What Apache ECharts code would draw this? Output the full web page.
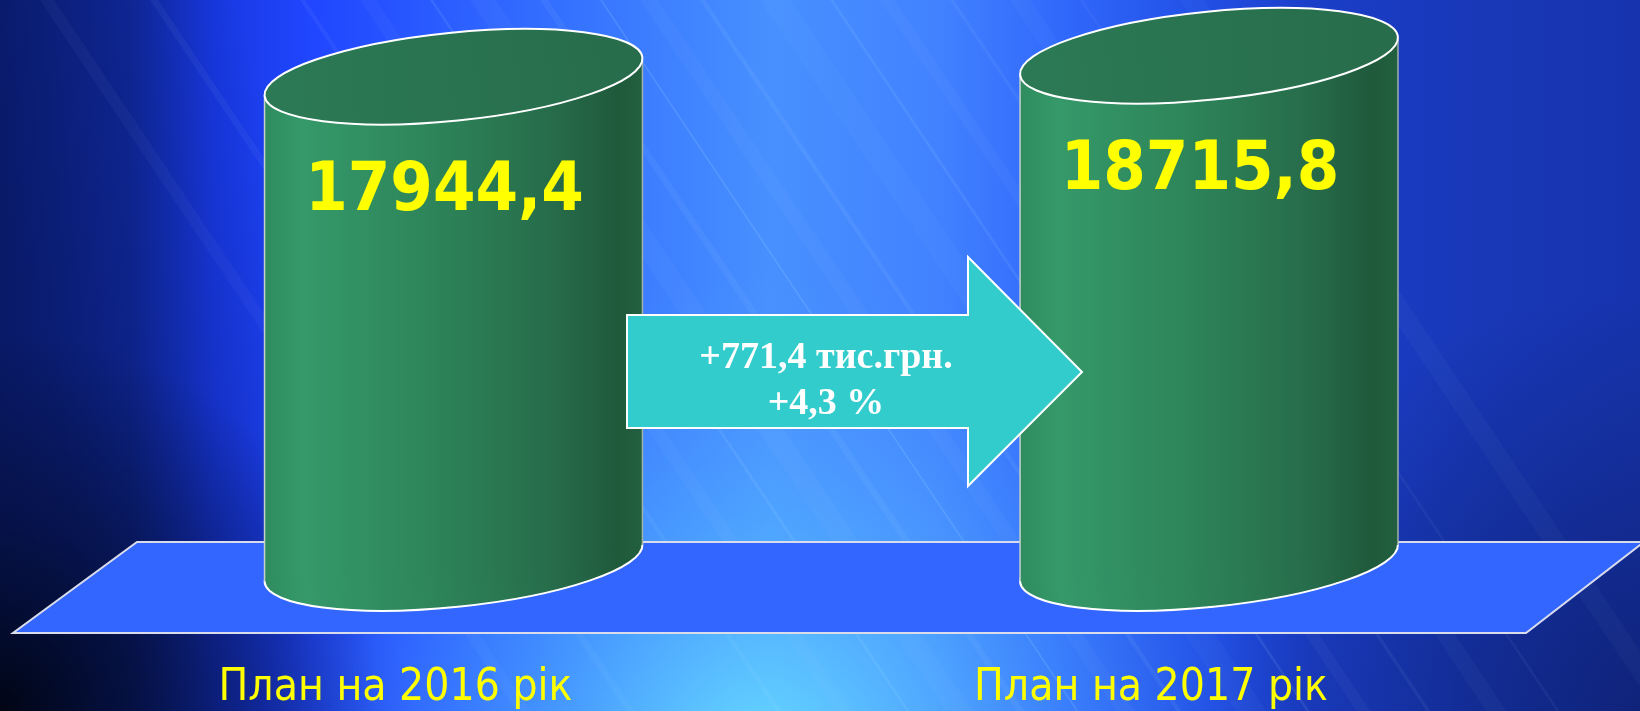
<!DOCTYPE html>
<html>
<head>
<meta charset="utf-8">
<script src="https://cdn.jsdelivr.net/npm/echarts@6/dist/echarts.min.js"></script>
<style>
  html, body { margin: 0; padding: 0; }
  #main { width: 1640px; height: 711px; }
</style>
</head>
<body>
<div id="main"></div>
<script>
var categories = ['План на 2016 рік', 'План на 2017 рік'];
var values = [17944.4, 18715.8];
var unit = 'тис.грн.';

var W = 1640, H = 711;
var diff = values[1] - values[0];
var pct = diff / values[0] * 100;
function fmt(v, d) { return v.toFixed(d).replace('.', ','); }

// background streaks: [x at top, width, opacity]
var streaks = [
  [40, 14, 0.04], [150, 8, 0.05], [300, 5, 0.06], [360, 16, 0.04],
  [430, 3, 0.10], [470, 26, 0.04], [540, 8, 0.06], [600, 2, 0.14],
  [640, 18, 0.04], [700, 5, 0.07], [760, 30, 0.03], [830, 3, 0.09],
  [880, 14, 0.04], [950, 4, 0.06], [1010, 20, 0.03], [1080, 3, 0.05],
  [1180, 24, 0.03]
];
var slope = 0.67;

var myChart = echarts.init(document.getElementById('main'));

var bg = [];
bg.push({
  type: 'rect', silent: true, z: -10,
  shape: { x: 0, y: 0, width: W, height: H },
  style: {
    fill: new echarts.graphic.LinearGradient(0, 0, 1, 0, [
      { offset: 0, color: '#0c2080' },
      { offset: 0.08, color: '#1029a0' },
      { offset: 0.13, color: '#1838e0' },
      { offset: 0.19, color: '#2046ff' },
      { offset: 0.34, color: '#3470ff' },
      { offset: 0.47, color: '#4890ff' },
      { offset: 0.57, color: '#4282ff' },
      { offset: 0.65, color: '#3068fb' },
      { offset: 0.73, color: '#2250e6' },
      { offset: 0.8, color: '#1b3ec8' },
      { offset: 0.9, color: '#1838b8' },
      { offset: 1, color: '#1734ae' }
    ])
  }
});
// cyan glow at the bottom centre
bg.push({
  type: 'rect', silent: true, z: -9,
  shape: { x: 0, y: 0, width: W, height: H },
  style: {
    fill: new echarts.graphic.RadialGradient(760, 770, 500, [
      { offset: 0, color: 'rgba(110,235,255,0.85)' },
      { offset: 0.5, color: 'rgba(90,200,255,0.35)' },
      { offset: 1, color: 'rgba(80,160,255,0)' }
    ], true)
  }
});
// darker left edge
bg.push({
  type: 'rect', silent: true, z: -8,
  shape: { x: 0, y: 0, width: W, height: H },
  style: {
    fill: new echarts.graphic.LinearGradient(-40, 40, 230, -30, [
      { offset: 0, color: 'rgba(4,14,60,0.35)' },
      { offset: 1, color: 'rgba(4,14,60,0)' }
    ], true)
  }
});
bg.push({
  type: 'rect', silent: true, z: -8,
  shape: { x: 0, y: 0, width: W, height: H },
  style: {
    fill: new echarts.graphic.RadialGradient(0, H, 380, [
      { offset: 0, color: 'rgba(0,4,16,0.95)' },
      { offset: 0.5, color: 'rgba(2,10,40,0.5)' },
      { offset: 1, color: 'rgba(2,10,40,0)' }
    ], true)
  }
});
// dark lower right
bg.push({
  type: 'rect', silent: true, z: -8,
  shape: { x: 0, y: 0, width: W, height: H },
  style: {
    fill: new echarts.graphic.RadialGradient(W, H, 420, [
      { offset: 0, color: 'rgba(12,28,100,0.7)' },
      { offset: 1, color: 'rgba(12,28,100,0)' }
    ], true)
  }
});
streaks.forEach(function (s) {
  var dx = H * slope;
  bg.push({
    type: 'polygon', silent: true, z: -7,
    shape: { points: [[s[0], 0], [s[0] + s[1], 0], [s[0] + s[1] + dx, H], [s[0] + dx, H]] },
    style: { fill: 'rgba(200,240,255,' + s[2] + ')' }
  });
});

// floor
bg.push({
  type: 'polygon', silent: true, z: 1,
  shape: { points: [[137, 542], [1644, 542], [1526, 633], [13, 633]] },
  style: { fill: '#3366ff', stroke: '#d8dcec', lineWidth: 2 }
});

// arrow with the change
bg.push({
  type: 'polygon', silent: true, z: 10,
  shape: { points: [[627, 315], [968, 315], [968, 257], [1082, 372], [968, 486], [968, 428], [627, 428]] },
  style: { fill: '#33cccc', stroke: '#ffffff', lineWidth: 2 }
});
bg.push({
  type: 'text', silent: true, z: 11,
  x: 826, y: 381,
  style: {
    text: '+' + fmt(diff, 1) + ' ' + unit + '\n+' + fmt(pct, 1) + ' %',
    fill: '#ffffff',
    font: 'bold 38px "Liberation Serif", "Times New Roman", serif',
    align: 'center', verticalAlign: 'middle', lineHeight: 46
  }
});

var tilt = 5.8 * Math.PI / 180;
var ry = 44;

function renderCylinder(params, api) {
  var idx = api.value(0);
  var v = api.value(1);
  var top = api.coord([idx, v]);
  var base = api.coord([idx, 0]);
  var w = api.size([1, 0])[0] * 0.5;
  var cx = top[0];
  var rx = w / 2 + 1;
  var s = Math.sin(tilt), c = Math.cos(tilt);
  var hx = Math.sqrt(rx * rx * c * c + ry * ry * s * s);
  var dy = (rx * rx - ry * ry) * s * c / hx;
  var side = [
    { offset: 0, color: '#2f8c5e' },
    { offset: 0.1, color: '#35996a' },
    { offset: 0.45, color: '#2d8459' },
    { offset: 0.75, color: '#276d4b' },
    { offset: 0.93, color: '#1f5a3b' },
    { offset: 1, color: '#22603f' }
  ];
  return {
    type: 'group',
    children: [
      {
        type: 'ellipse', x: cx, y: base[1], rotation: tilt,
        shape: { cx: 0, cy: 0, rx: rx, ry: ry },
        style: { fill: new echarts.graphic.LinearGradient(-hx, 0, hx, 0, side, true), stroke: '#ffffff', lineWidth: 2 }
      },
      {
        type: 'polygon',
        shape: { points: [[cx - hx, top[1] + dy], [cx + hx, top[1] - dy], [cx + hx, base[1] - dy], [cx - hx, base[1] + dy]] },
        style: { fill: new echarts.graphic.LinearGradient(cx - hx, 0, cx + hx, 0, side, true) }
      },
      {
        type: 'line',
        shape: { x1: cx - hx, y1: top[1] + dy, x2: cx - hx, y2: base[1] + dy },
        style: { stroke: '#c4d2cc', lineWidth: 1.5 }
      },
      {
        type: 'line',
        shape: { x1: cx + hx, y1: top[1] - dy, x2: cx + hx, y2: base[1] - dy },
        style: { stroke: '#9fb2a8', lineWidth: 1.5 }
      },
      {
        type: 'ellipse', x: cx, y: top[1], rotation: tilt,
        shape: { cx: 0, cy: 0, rx: rx, ry: ry },
        style: {
          fill: new echarts.graphic.LinearGradient(-rx, 0, rx, 0, [
            { offset: 0, color: '#2c7a55' },
            { offset: 1, color: '#276c4b' }
          ], true),
          stroke: '#ffffff', lineWidth: 2
        }
      },
      {
        type: 'text', x: cx - 9, y: top[1] + 116,
        style: {
          text: fmt(v, 1),
          fill: '#ffff00',
          font: 'bold 68px "DejaVu Sans Condensed", "DejaVu Sans", sans-serif',
          align: 'center', verticalAlign: 'middle'
        }
      }
    ]
  };
}

var option = {
  animation: false,
  graphic: { elements: bg },
  grid: { left: 75.75, right: 53.25, top: 21, bottom: 146 },
  xAxis: {
    type: 'category',
    data: categories,
    axisLine: { show: false },
    axisTick: { show: false },
    axisLabel: {
      color: '#ffff00',
      fontSize: 44,
      fontFamily: '"DejaVu Sans Condensed", "DejaVu Sans", sans-serif',
      margin: 104,
      padding: [0, 116, 0, 0]
    }
  },
  yAxis: {
    type: 'value',
    min: 0,
    max: 20000,
    show: false,
    splitLine: { show: false }
  },
  series: [{
    type: 'custom',
    z: 5,
    renderItem: renderCylinder,
    encode: { x: 0, y: 1 },
    data: values.map(function (v, i) { return [i, v]; })
  }]
};
myChart.setOption(option);
</script>
</body>
</html>
